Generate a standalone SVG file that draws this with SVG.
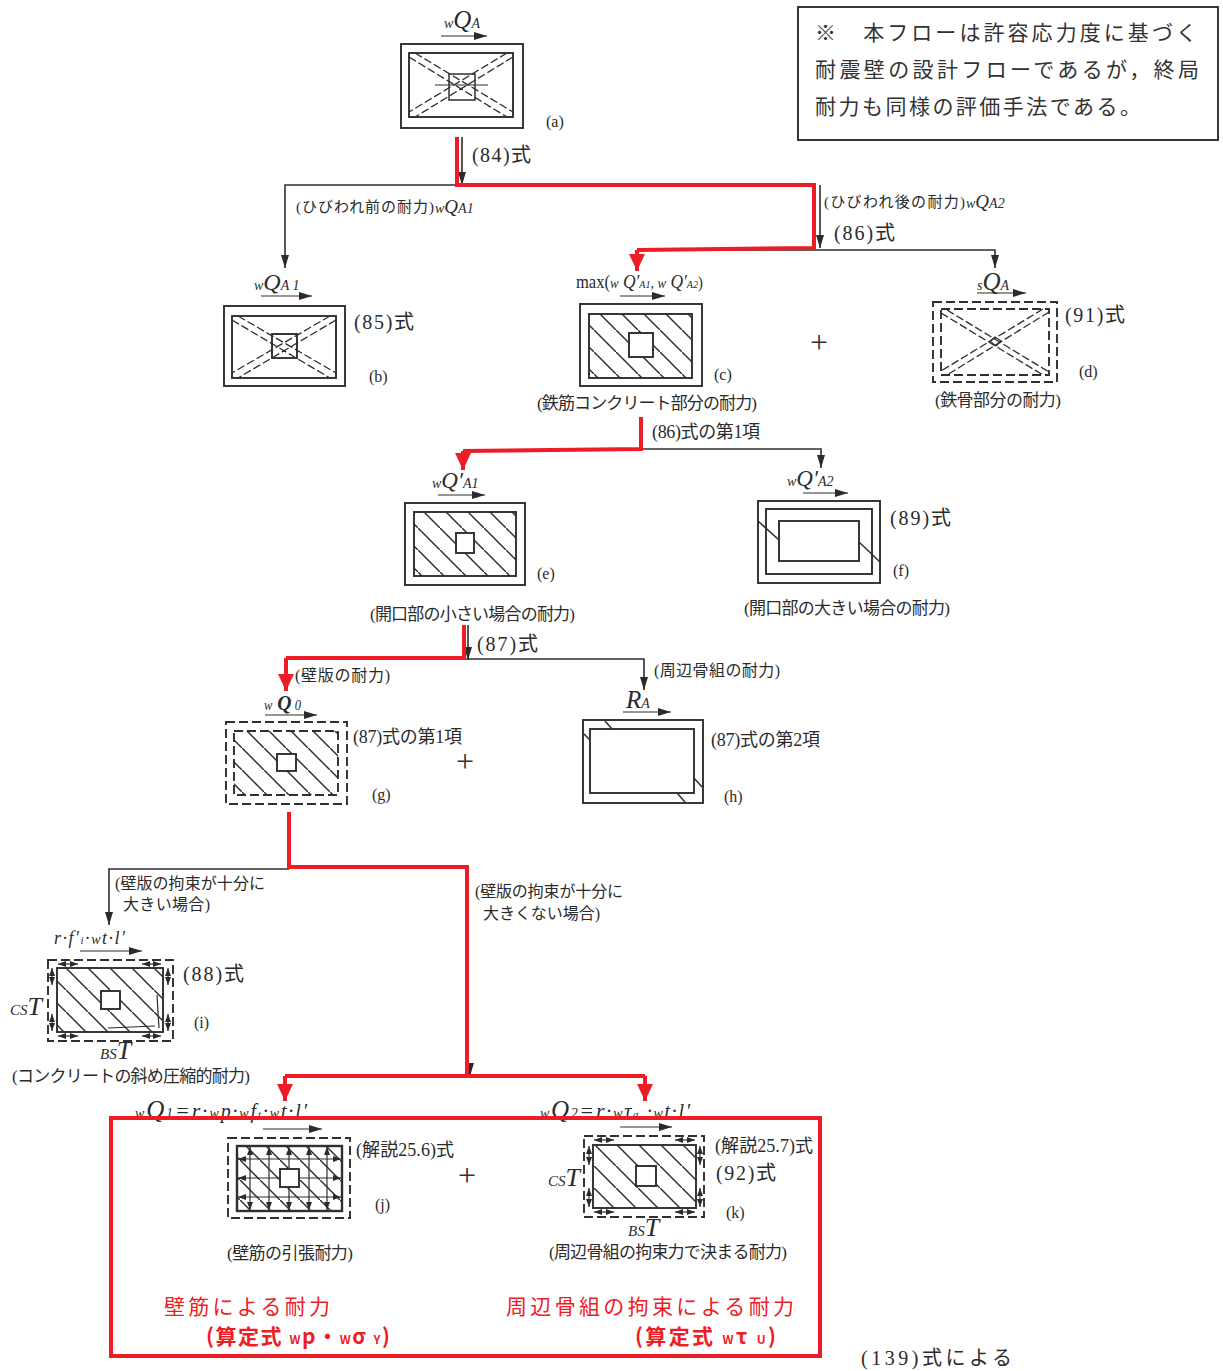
<svg xmlns="http://www.w3.org/2000/svg" width="1223" height="1371" viewBox="0 0 1223 1371">
<style>
text{font-family:"Liberation Serif","Noto Sans CJK JP",serif;fill:#2b2b2b}
.f20{font-size:20px}.f17{font-size:17px}.f15{font-size:15px}.f16{font-size:16px}.f18{font-size:18px}.f14{font-size:14px}
.m{font-family:"Liberation Serif",serif;font-style:italic}
.s{font-size:14px}.q{font-size:25px}
.r{fill:#ee1c25;font-family:"Noto Sans CJK JP",sans-serif;font-size:21px}
.rb{fill:#ee1c25;font-family:"Noto Sans CJK JP",sans-serif;font-size:21px;font-weight:700}
.n{font-family:"Noto Sans CJK JP",sans-serif;font-size:21px;fill:#333}
.plus{font-size:32px;text-anchor:middle;fill:#333}
rect,line,path,polyline{fill:none;stroke:#2f2f2f;stroke-width:1.5}
.w{fill:#fff}
.o{stroke-width:1.9}
.d{stroke-dasharray:9 4}
.dd{stroke-dasharray:8 3;stroke-width:1.3}
.h{fill:url(#hatch);stroke-width:1.9}
.hj{fill:url(#hatch2);stroke-width:2.4}
.a{marker-end:url(#ah)}
.ab{marker-start:url(#sh);marker-end:url(#sh)}
.thin{stroke-width:1.2}
.red{stroke:#ee1c25;stroke-width:4;fill:none}
.redA{marker-end:url(#rh)}
.c{stroke-width:1.6}
</style>
<defs>
<pattern id="hatch" patternUnits="userSpaceOnUse" width="22" height="22"><path d="M-2 -2L24 24" stroke="#2f2f2f" stroke-width="1.3"/></pattern>
<pattern id="hatch2" patternUnits="userSpaceOnUse" width="20" height="20"><path d="M-2 -2L22 22" stroke="#2f2f2f" stroke-width="1.3"/></pattern>
<marker id="ah" markerUnits="userSpaceOnUse" markerWidth="14" markerHeight="10" refX="13" refY="5" orient="auto"><path d="M0 1L13 5L0 9Z" style="fill:#2b2b2b;stroke:none"/></marker>
<marker id="sh" markerUnits="userSpaceOnUse" markerWidth="9" markerHeight="8" refX="8" refY="4" orient="auto-start-reverse"><path d="M0 1L8 4L0 7Z" style="fill:#2b2b2b;stroke:none"/></marker>
<marker id="rh" markerUnits="userSpaceOnUse" markerWidth="18" markerHeight="18" refX="17" refY="9" orient="auto"><path d="M0 1L17 9L0 17Z" style="fill:#ee1c25;stroke:none"/></marker>
</defs>

<g id="note">
<rect x="798" y="7" width="420" height="133" class="o"/>
<text class="n" x="815" y="40" textLength="382">※　本フローは許容応力度に基づく</text>
<text class="n" x="815" y="77" textLength="384">耐震壁の設計フローであるが，終局</text>
<text class="n" x="815" y="114" textLength="326">耐力も同様の評価手法である。</text>
</g>

<g id="labels-outside">
<text class="f20" x="861" y="1365" textLength="151">(139)式による</text>
</g>

<g id="connectors">
<path class="c a" d="M462 137V185"/>
<path class="c a" d="M457 185H285V268"/>
<path class="c a" d="M820 185V248"/>
<path class="c a" d="M637 250H995V268"/>
<path class="c a" d="M641 449H821V468"/>
<path class="c a" d="M468 625V660"/>
<path class="c a" d="M464 659H644V690"/>
<path class="c a" d="M289 869H109V925"/>
<path class="c a" d="M470 1063V1076"/>
<polyline class="red" points="457,137 457,185 814,185 814,248 637,250"/>
<path class="red redA" d="M637 250V271"/>
<polyline class="red" points="641,417 641,449 463,451"/>
<path class="red redA" d="M463 451V470"/>
<polyline class="red" points="464,625 464,658 286,658"/>
<path class="red redA" d="M286 658V691"/>
<polyline class="red" points="289,812 289,867 467,867 467,1076"/>
<path class="red" d="M285 1076H645"/>
<path class="red redA" d="M285 1076V1101"/>
<path class="red redA" d="M645 1076V1101"/>
</g>

<g id="node-a">
<text class="m" x="444" y="28"><tspan class="s">w</tspan><tspan class="q">Q</tspan><tspan class="s">A</tspan></text>
<line class="a thin" x1="441" y1="36" x2="487" y2="36"/>
<rect x="401" y="44" width="122" height="84" class="o"/>
<rect x="409" y="53" width="104" height="64" class="o"/>
<rect x="449" y="74" width="26" height="26"/>
<path class="dd" d="M415 53L513 112M409 57L507 117M507 53L409 112M513 57L415 117"/>
<line x1="435" y1="85" x2="488" y2="85" class="thin"/>
<text class="f16" x="546" y="127">(a)</text>
<text class="f20" x="472" y="162" textLength="59">(84)式</text>
</g>

<g id="branch-labels">
<text class="f15" x="296" y="212" textLength="138">(ひびわれ前の耐力)</text>
<text class="m" x="435" y="213"><tspan class="s">w</tspan><tspan font-size="19">Q</tspan><tspan class="s">A1</tspan></text>
<text class="f15" x="824" y="207" textLength="141">(ひびわれ後の耐力)</text>
<text class="m" x="966" y="208"><tspan class="s">w</tspan><tspan font-size="19">Q</tspan><tspan class="s">A2</tspan></text>
<text class="f20" x="834" y="240" textLength="61">(86)式</text>
</g>

<g id="node-b">
<text class="m" x="254" y="290"><tspan class="s">w</tspan><tspan font-size="24">Q</tspan><tspan class="s">A 1</tspan></text>
<line class="a thin" x1="261" y1="296" x2="312" y2="296"/>
<rect x="224" y="306" width="121" height="80" class="o"/>
<rect x="232" y="316" width="104" height="62" class="o"/>
<rect x="272" y="334" width="25" height="24" class="o"/>
<path class="dd" d="M238 316L336 373M232 320L330 378M330 316L232 373M336 320L238 378"/>
<text class="f20" x="354" y="329" textLength="60">(85)式</text>
<text class="f16" x="369" y="382">(b)</text>
</g>

<g id="node-c">
<text x="576" y="288" textLength="127" lengthAdjust="spacingAndGlyphs"><tspan class="f18">max(</tspan><tspan class="m"><tspan class="s">w</tspan><tspan font-size="19"> Q′</tspan><tspan font-size="11">A1</tspan><tspan font-size="15">, </tspan><tspan class="s">w</tspan><tspan font-size="19"> Q′</tspan><tspan font-size="11">A2</tspan></tspan><tspan class="f16">)</tspan></text>
<line class="a thin" x1="620" y1="296" x2="665" y2="296"/>
<rect x="580" y="304" width="122" height="82" class="o"/>
<rect x="589" y="314" width="103" height="64" class="h"/>
<rect x="629" y="333" width="24" height="24" class="w o"/>
<text class="f16" x="714" y="380">(c)</text>
<text class="f17" x="537" y="409" textLength="220">(鉄筋コンクリート部分の耐力)</text>
</g>

<text class="plus" x="819" y="353">+</text>

<g id="node-d">
<text class="m" x="977" y="290"><tspan class="s">s</tspan><tspan class="q">Q</tspan><tspan class="s">A</tspan></text>
<line class="a thin" x1="977" y1="293" x2="1026" y2="293"/>
<rect x="933" y="302" width="124" height="80" class="d o"/>
<rect x="941" y="309" width="108" height="66" class="d o"/>
<path class="dd" d="M947 310L1049 372M941 313L1043 375M1043 309L941 371M1049 312L947 375"/>
<path d="M990 341L995 337L1001 341L996 346Z" class="thin"/>
<text class="f20" x="1065" y="322" textLength="60">(91)式</text>
<text class="f16" x="1079" y="377">(d)</text>
<text class="f17" x="935" y="406" textLength="126">(鉄骨部分の耐力)</text>
</g>

<text class="f18" x="652" y="438" textLength="108">(86)式の第1項</text>

<g id="node-e">
<text class="m" x="432" y="488" font-size="23"><tspan class="s">w</tspan><tspan font-size="23">Q′</tspan><tspan class="s">A1</tspan></text>
<line class="a thin" x1="438" y1="495" x2="485" y2="495"/>
<rect x="405" y="503" width="120" height="82" class="o"/>
<rect x="414" y="512" width="102" height="64" class="h"/>
<rect x="456" y="533" width="18" height="20" class="w o"/>
<text class="f16" x="537" y="579">(e)</text>
<text class="f17" x="370" y="620" textLength="205">(開口部の小さい場合の耐力)</text>
</g>

<g id="node-f">
<text class="m" x="787" y="486"><tspan class="s">w</tspan><tspan font-size="23">Q′</tspan><tspan class="s">A2</tspan></text>
<line class="a thin" x1="803" y1="493" x2="848" y2="493"/>
<rect x="758" y="501" width="122" height="82" class="o"/>
<rect x="766" y="509" width="106" height="65" class="o"/>
<rect x="779" y="521" width="80" height="40" class="o"/>
<line x1="758" y1="521" x2="779" y2="540"/>
<line x1="859" y1="542" x2="880" y2="562"/>
<text class="f20" x="890" y="525" textLength="61">(89)式</text>
<text class="f16" x="893" y="576">(f)</text>
<text class="f17" x="744" y="614" textLength="206">(開口部の大きい場合の耐力)</text>
</g>

<text class="f20" x="477" y="651" textLength="61">(87)式</text>
<text class="f16" x="295" y="681" textLength="95">(壁版の耐力)</text>
<text class="f16" x="654" y="676" textLength="126">(周辺骨組の耐力)</text>

<g id="node-g">
<text class="m" x="264" y="710" textLength="37" lengthAdjust="spacingAndGlyphs"><tspan class="s">w</tspan><tspan font-size="22" font-weight="700"> Q</tspan><tspan class="s"> 0</tspan></text>
<line class="a thin" x1="265" y1="715" x2="317" y2="715"/>
<rect x="226" y="722" width="121" height="82" class="d o"/>
<rect x="234" y="731" width="104" height="64" class="d h"/>
<rect x="277" y="754" width="19" height="17" class="w o"/>
<text class="f18" x="353" y="743" textLength="109">(87)式の第1項</text>
<text class="f16" x="372" y="800">(g)</text>
</g>

<text class="plus" x="465" y="772">+</text>

<g id="node-h">
<text class="m" x="626" y="708"><tspan class="q">R</tspan><tspan class="s">A</tspan></text>
<line class="a thin" x1="623" y1="712" x2="671" y2="712"/>
<rect x="583" y="720" width="120" height="83" class="o"/>
<rect x="590" y="729" width="104" height="64" class="o"/>
<line x1="605" y1="721" x2="612" y2="729"/>
<line x1="583" y1="733" x2="590" y2="740"/>
<line x1="694" y1="778" x2="702" y2="787"/>
<line x1="677" y1="793" x2="685" y2="802"/>
<text class="f18" x="711" y="746" textLength="109">(87)式の第2項</text>
<text class="f16" x="724" y="802">(h)</text>
</g>

<g id="branch-labels-2">
<text class="f16" x="115" y="889" textLength="150">(壁版の拘束が十分に</text>
<text class="f16" x="123" y="910" textLength="87">大きい場合)</text>
<text class="f16" x="475" y="897" textLength="148">(壁版の拘束が十分に</text>
<text class="f16" x="483" y="919" textLength="117">大きくない場合)</text>
</g>

<g id="node-i">
<text class="m" x="54" y="944" textLength="71"><tspan font-size="18">r·f′</tspan><tspan font-size="11">i</tspan><tspan font-size="18">·</tspan><tspan class="s">w</tspan><tspan font-size="18">t·l′</tspan></text>
<line class="a thin" x1="80" y1="951" x2="142" y2="951"/>
<rect x="48" y="960" width="125" height="81" class="d o"/>
<rect x="57" y="968" width="106" height="64" class="h"/>
<rect x="101" y="991" width="19" height="18" class="w o"/>
<path class="thin ab" d="M58 964H78"/><path class="thin ab" d="M142 964H161"/>
<path class="thin ab" d="M58 1036H78"/><path class="thin ab" d="M142 1036H161"/>
<path class="thin ab" d="M52 968V985"/><path class="thin ab" d="M52 1014V1031"/>
<path class="thin ab" d="M168 968V985"/><path class="thin ab" d="M168 1014V1031"/>
<path class="thin" d="M108 1028L155 1026M157 995L159 1028"/>
<text class="f20" x="183" y="981" textLength="61">(88)式</text>
<text x="10" y="1015"><tspan class="m" font-size="15">CS</tspan><tspan class="m" font-size="26">T</tspan></text>
<text class="f16" x="194" y="1028">(i)</text>
<text x="100" y="1059"><tspan class="m" font-size="15">BS</tspan><tspan class="m" font-size="26">T</tspan></text>
<text class="f17" x="12" y="1082" textLength="238">(コンクリートの斜め圧縮的耐力)</text>
</g>

<g id="node-j">
<text class="m" x="135" y="1118" textLength="172"><tspan class="s">w</tspan><tspan class="q">Q</tspan><tspan class="s">1</tspan><tspan font-size="22">=r·</tspan><tspan class="s">w</tspan><tspan font-size="20">p·</tspan><tspan class="s">w</tspan><tspan font-size="20">f</tspan><tspan font-size="11">t</tspan><tspan font-size="20">·</tspan><tspan class="s">w</tspan><tspan font-size="20">t·l′</tspan></text>
<line class="a thin" x1="263" y1="1129" x2="322" y2="1129"/>
<rect x="228" y="1138" width="122" height="80" class="d o"/>
<rect x="237" y="1146" width="105" height="65" class="hj"/>
<path class="thin ab" d="M250 1147V1210"/><path class="thin ab" d="M269 1147V1210"/><path class="thin ab" d="M289 1147V1210"/><path class="thin ab" d="M309 1147V1210"/><path class="thin ab" d="M327 1147V1210"/>
<path class="thin ab" d="M238 1159H341"/><path class="thin ab" d="M238 1178H341"/><path class="thin ab" d="M238 1197H341"/>
<rect x="280" y="1169" width="19" height="18" class="w o"/>
<text class="f18" x="356" y="1156" textLength="98">(解説25.6)式</text>
<text class="f16" x="375" y="1210">(j)</text>
<text class="f17" x="227" y="1259" textLength="126">(壁筋の引張耐力)</text>
</g>

<text class="plus" x="467" y="1186">+</text>

<g id="node-k">
<text class="m" x="540" y="1118" textLength="150"><tspan class="s">w</tspan><tspan class="q">Q</tspan><tspan class="s">2</tspan><tspan font-size="22">=r·</tspan><tspan class="s">w</tspan><tspan font-size="20">τ</tspan><tspan font-size="11">a</tspan><tspan font-size="20"> ·</tspan><tspan class="s">w</tspan><tspan font-size="20">t·l′</tspan></text>
<line class="a thin" x1="620" y1="1127" x2="672" y2="1127"/>
<rect x="584" y="1136" width="120" height="81" class="d o"/>
<rect x="593" y="1145" width="103" height="63" class="h"/>
<rect x="636" y="1166" width="20" height="20" class="w o"/>
<path class="thin ab" d="M594 1140H614"/><path class="thin ab" d="M675 1140H695"/>
<path class="thin ab" d="M594 1212H614"/><path class="thin ab" d="M675 1212H695"/>
<path class="thin ab" d="M589 1146V1165"/><path class="thin ab" d="M589 1188V1207"/>
<path class="thin ab" d="M700 1146V1165"/><path class="thin ab" d="M700 1188V1207"/>
<text class="f18" x="715" y="1152" textLength="98">(解説25.7)式</text>
<text class="f20" x="716" y="1180" textLength="60">(92)式</text>
<text x="548" y="1186"><tspan class="m" font-size="15">CS</tspan><tspan class="m" font-size="26">T</tspan></text>
<text class="f16" x="726" y="1218">(k)</text>
<text x="628" y="1236"><tspan class="m" font-size="15">BS</tspan><tspan class="m" font-size="26">T</tspan></text>
<text class="f17" x="549" y="1258" textLength="238">(周辺骨組の拘束力で決まる耐力)</text>
</g>

<g id="highlight">
<rect x="111" y="1118" width="709" height="238" class="red"/>
<text class="r" x="164" y="1314" textLength="166">壁筋による耐力</text>
<text class="r" x="506" y="1314" textLength="288">周辺骨組の拘束による耐力</text>
<text class="rb" x="206" y="1344" textLength="184">(算定式 <tspan font-size="12">W</tspan>p・<tspan font-size="12">W</tspan>σ <tspan font-size="12">Y</tspan>)</text>
<text class="rb" x="635" y="1344" textLength="141">(算定式 <tspan font-size="12">W</tspan>τ <tspan font-size="12">U</tspan>)</text>
</g>
</svg>
